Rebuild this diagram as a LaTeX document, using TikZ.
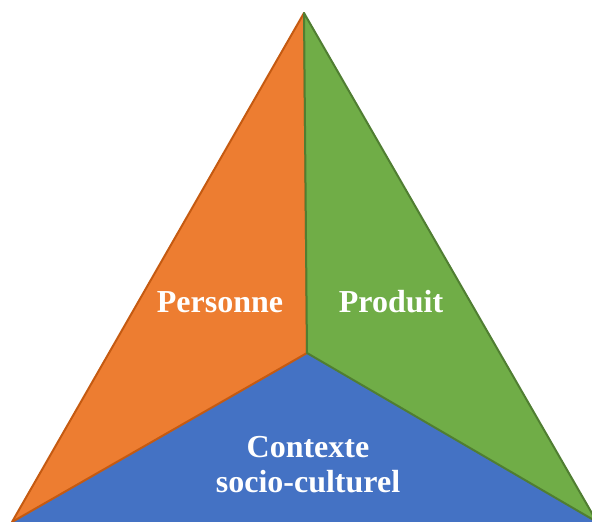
\documentclass[tikz,border=0pt]{standalone}
\usepackage{fontspec}
\setmainfont{Liberation Serif}
\definecolor{orangeP}{HTML}{ED7D31}
\definecolor{orangeB}{HTML}{C55A11}
\definecolor{greenP}{HTML}{70AD47}
\definecolor{greenB}{HTML}{507E32}
\definecolor{blueC}{HTML}{4472C4}
\begin{document}
\begin{tikzpicture}[x=1pt,y=-1pt,line join=round,
	label/.style={text=white,font=\bfseries\fontsize{32}{35}\selectfont,align=center}]
		\useasboundingbox (0,0) rectangle (592,522);
		\clip (0,0) rectangle (592,522);
		\coordinate (A) at (304,13);
		\coordinate (L) at (12,522);
		\coordinate (R) at (597,522);
		\coordinate (O) at (307,353);
		\fill[blueC] (L)--(O)--(R)--cycle;
		\draw[fill=orangeP,draw=orangeB,line width=2pt] (A)--(O)--(L)--cycle;
		\draw[fill=greenP,draw=greenB,line width=2pt] (A)--(R)--(O)--cycle;
		\node[label,anchor=base] (pers) at (220,312) {Personne};
		\node[label,anchor=base] (prod) at (391,312) {Produit};
		\node[label,anchor=base] (ctx) at (308,457) {Contexte};
		\node[label,anchor=base] (soc) at (308,492) {socio-culturel};
\end{tikzpicture}
\end{document}
